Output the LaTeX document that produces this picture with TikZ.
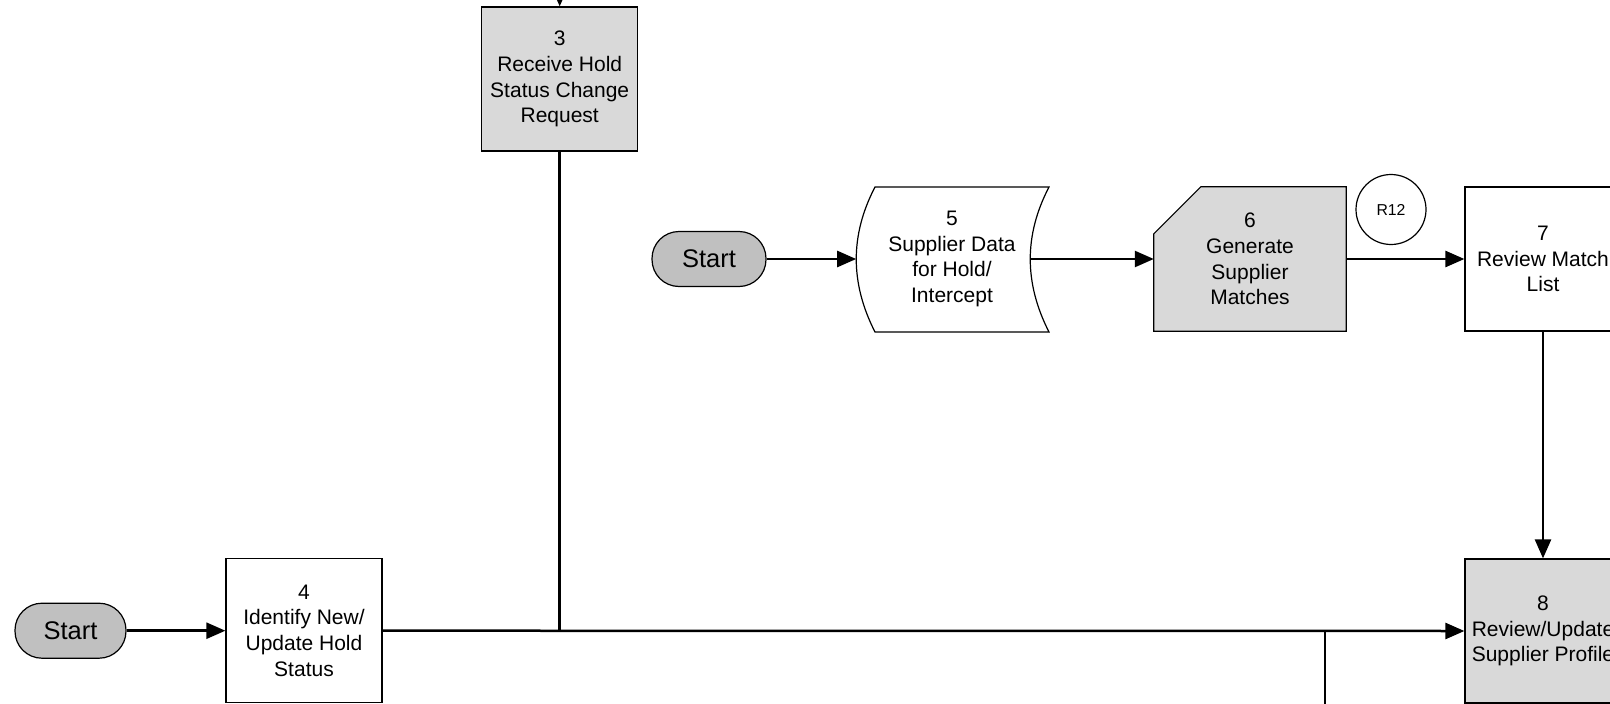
\documentclass[tikz,border=0pt]{standalone}
\usepackage{fontspec}
\setmainfont{Liberation Sans}
\usetikzlibrary{arrows.meta,calc}
\definecolor{boxgray}{RGB}{217,217,217}
\definecolor{startgray}{RGB}{192,192,192}
\tikzset{
  procbox/.style={draw=black, line width=1.2pt, minimum width=156pt, minimum height=144pt,
    inner sep=0pt, align=center, font=\fontsize{21}{25.7}\selectfont},
  graybox/.style={procbox, fill=boxgray},
  startnode/.style={draw=black, line width=1.2pt, fill=startgray, rounded corners=27pt,
    minimum height=55pt, inner sep=0pt, font=\fontsize{25.5}{30}\selectfont},
  textonly/.style={inner sep=0pt, align=center, font=\fontsize{21}{25.7}\selectfont},
  conn/.style={line width=2.5pt},
  arr/.style={conn, -{Triangle[length=19pt,width=16pt]}},
}
\begin{document}
\begin{tikzpicture}[x=1pt,y=-1pt]
\useasboundingbox (0,0) rectangle (1610,704);
\clip (0,0) rectangle (1610,704);
\fill[white] (0,0) rectangle (1610,704);

% nodes
\node[graybox] (n3) at (559.7,79) {3\\Receive Hold\\Status Change\\Request};
\node[procbox, fill=white] (n4) at (304,630.7) {4\\Identify New/\\Update Hold\\Status};
\node[startnode, minimum width=111pt] (s1) at (70.5,630.7) {Start};
\node[startnode, minimum width=114pt] (s2) at (709,259) {Start};

% node 5: stored data shape
\node[textonly, minimum width=174pt, minimum height=145pt] (n5) at (952,259) {};
\draw[line width=1.2pt, fill=white] (875,187) -- (1049,187)
  .. controls (1024,235) and (1024,283) .. (1049,332) -- (875,332)
  .. controls (850,283) and (850,235) .. (875,187) -- cycle;
\node[textonly] at (n5) {5\\Supplier Data\\for Hold/\\Intercept};
\coordinate (n5w) at (856.2,259);
\coordinate (n5e) at (1030.2,259);

% node 6: chamfered
\node[textonly, minimum width=192pt, minimum height=144pt] (n6) at (1250,259) {};
\draw[line width=1.2pt, fill=boxgray] ($(n6.north west)+(0,47)$) -- ($(n6.north west)+(47,0)$)
  -- (n6.north east) -- (n6.south east) -- (n6.south west) -- cycle;
\node[textonly] at (n6) {6\\Generate\\Supplier\\Matches};

% R12
\node[draw=black, line width=1.2pt, circle, minimum size=70pt, inner sep=0pt,
  font=\fontsize{15.8}{18}\selectfont] (r12) at (1391,209.5) {R12};

\node[procbox, fill=white] (n7) at (1543,259) {7\\Review Match\\List};
\node[graybox] (n8) at (1543,631) {8\\Review/Update\\Supplier Profile};

% free ends
\coordinate (t1) at (559.7,-30);
\coordinate (b1) at (1325,730);
\coordinate (b2) at (1543,730);

% connectors
\draw[arr] (t1) -- (n3.north);
\draw[arr] (s1) -- (n4);
\draw[arr] (n4.east) -- (n8.west);
\draw[conn] (n3.south) -- (n3.south |- n8.west);
\draw[conn] (b1) -- (b1 |- n8.west);
\draw[conn] (n8.south) -- (b2);
\draw[arr] (s2.east) -- (n5w);
\draw[arr] (n5e) -- (n6.west);
\draw[arr] (n6.east) -- (n7.west);
\draw[arr] (n7.south) -- (n8.north);
\end{tikzpicture}
\end{document}
